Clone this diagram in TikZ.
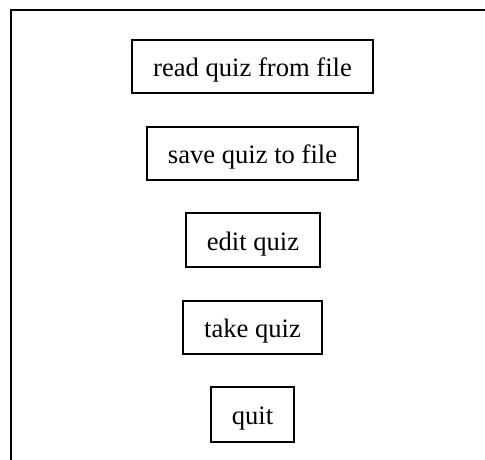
\documentclass[tikz,border=0pt]{standalone}
\usepackage{fontspec}
\setmainfont{Liberation Serif}
\begin{document}
\begin{tikzpicture}[x=1pt,y=-1pt,
  menubox/.style={draw, line width=1.4pt, inner sep=0pt, align=center,
    text height=20pt, text depth=0pt,
    font=\fontsize{26.6}{30}\selectfont},
  framerule/.style={line width=2pt, line cap=rect}]
  \useasboundingbox (0,0) rectangle (485,460);
  % open frame: top and left rules only
  \coordinate (ftr) at (485,10);
  \coordinate (ftl) at (11,10);
  \coordinate (fbl) at (11,460);
  \draw[framerule] (ftr) -- (ftl) -- (fbl);
  % menu entries
  \node[menubox, minimum width=241, minimum height=53] (read) at (252.5,66.5) {read quiz from file};
  \node[menubox, minimum width=211, minimum height=53] (save) at (252.5,153.5) {save quiz to file};
  \node[menubox, minimum width=134, minimum height=54] (edit) at (253,240) {edit quiz};
  \node[menubox, minimum width=139, minimum height=53] (take) at (252.5,327.5) {take quiz};
  \node[menubox, minimum width=83, minimum height=55] (quit) at (252.5,414.5) {quit};
\end{tikzpicture}
\end{document}
